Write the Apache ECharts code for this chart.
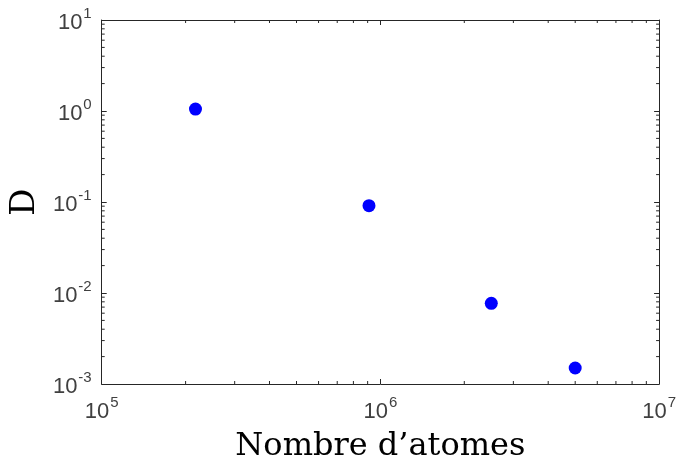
<!DOCTYPE html>
<html>
<head>
<meta charset="utf-8">
<script src="https://cdn.jsdelivr.net/npm/echarts@6/dist/echarts.min.js"></script>
<style>html,body{margin:0;padding:0;background:#fff}#c{width:679px;height:468px}</style>
</head>
<body>
<div id="c"></div>
<script>
// Data
const atomCounts = [2.17e5, 9.1e5, 2.5e6, 5.0e6];
const dValues = [1.05, 0.0912, 0.0077, 0.0015];
const xTickExponents = [5, 6, 7];
const yTickExponents = [-3, -2, -1, 0, 1];
const xTitle = "Nombre d\u2019atomes";
const yTitle = "D";

const xMin = Math.pow(10, xTickExponents[0]);
const xMax = Math.pow(10, xTickExponents[xTickExponents.length - 1]);
const yMin = Math.pow(10, yTickExponents[0]);
const yMax = Math.pow(10, yTickExponents[yTickExponents.length - 1]);

function minorValues(exps) {
  const out = [];
  for (let i = 0; i < exps.length - 1; i++) {
    for (let m = 2; m <= 9; m++) out.push([m * Math.pow(10, exps[i])]);
  }
  return out;
}

const axisColor = '#262626';
const labelRich = {
  b: { fontFamily: 'Liberation Sans', fontSize: 22, color: '#404040', lineHeight: 28, verticalAlign: 'bottom' },
  s: { fontFamily: 'Liberation Sans', fontSize: 15, color: '#404040', lineHeight: 20, verticalAlign: 'top', padding: [0, 0, 0, 1] }
};
function expLabel(v) {
  const e = Math.round(Math.log10(v));
  return '{b|10}{s|' + e + '}';
}

const chart = echarts.init(document.getElementById('c'), null, { renderer: 'canvas' });
const baseAxis = {
  type: 'log', logBase: 10,
  axisLine: { show: true, lineStyle: { color: axisColor, width: 1 } },
  axisTick: { show: true, inside: true, length: 5, lineStyle: { color: axisColor } },
  splitLine: { show: false },
  minorTick: { show: false },
  minorSplitLine: { show: false }
};

chart.setOption({
  animation: false,
  backgroundColor: '#ffffff',
  grid: { left: 101, right: 16, top: 20, bottom: 82, containLabel: false },
  xAxis: [
    Object.assign({}, baseAxis, {
      position: 'bottom', min: xMin, max: xMax,
      axisLabel: { show: true, formatter: expLabel, rich: labelRich, margin: 11 },
      name: xTitle, nameLocation: 'middle', nameGap: 47,
      nameTextStyle: { fontFamily: 'DejaVu Serif', fontSize: 32, color: '#000' }
    }),
    Object.assign({}, baseAxis, {
      position: 'top', min: xMin, max: xMax, axisLabel: { show: false }
    })
  ],
  yAxis: [
    Object.assign({}, baseAxis, {
      position: 'left', min: yMin, max: yMax,
      axisLabel: { show: true, formatter: expLabel, rich: labelRich, margin: 10 },
      name: yTitle, nameLocation: 'middle', nameGap: 58,
      nameTextStyle: { fontFamily: 'DejaVu Serif', fontSize: 34, color: '#000' }
    }),
    Object.assign({}, baseAxis, {
      position: 'right', min: yMin, max: yMax, axisLabel: { show: false }
    })
  ],
  series: [
    {
      type: 'custom', xAxisIndex: 0, yAxisIndex: 0, silent: true, clip: false,
      data: minorValues(xTickExponents),
      renderItem: function (params, api) {
        const v = api.value(0);
        const b = api.coord([v, yMin]);
        const t = api.coord([v, yMax]);
        const st = { stroke: axisColor, lineWidth: 1 };
        return { type: 'group', children: [
          { type: 'line', shape: { x1: b[0], y1: b[1], x2: b[0], y2: b[1] - 3 }, style: st },
          { type: 'line', shape: { x1: t[0], y1: t[1], x2: t[0], y2: t[1] + 3 }, style: st }
        ] };
      }
    },
    {
      type: 'custom', xAxisIndex: 0, yAxisIndex: 0, silent: true, clip: false,
      data: minorValues(yTickExponents).map(function (d) { return [xMin, d[0]]; }),
      renderItem: function (params, api) {
        const v = api.value(1);
        const l = api.coord([xMin, v]);
        const r = api.coord([xMax, v]);
        const st = { stroke: axisColor, lineWidth: 1 };
        return { type: 'group', children: [
          { type: 'line', shape: { x1: l[0], y1: l[1], x2: l[0] + 3, y2: l[1] }, style: st },
          { type: 'line', shape: { x1: r[0], y1: r[1], x2: r[0] - 3, y2: r[1] }, style: st }
        ] };
      }
    },
    {
      type: 'scatter', xAxisIndex: 0, yAxisIndex: 0,
      symbol: 'circle', symbolSize: 13,
      itemStyle: { color: '#0000ff', opacity: 1 },
      data: atomCounts.map(function (x, i) { return [x, dValues[i]]; })
    }
  ]
});
</script>
</body>
</html>
